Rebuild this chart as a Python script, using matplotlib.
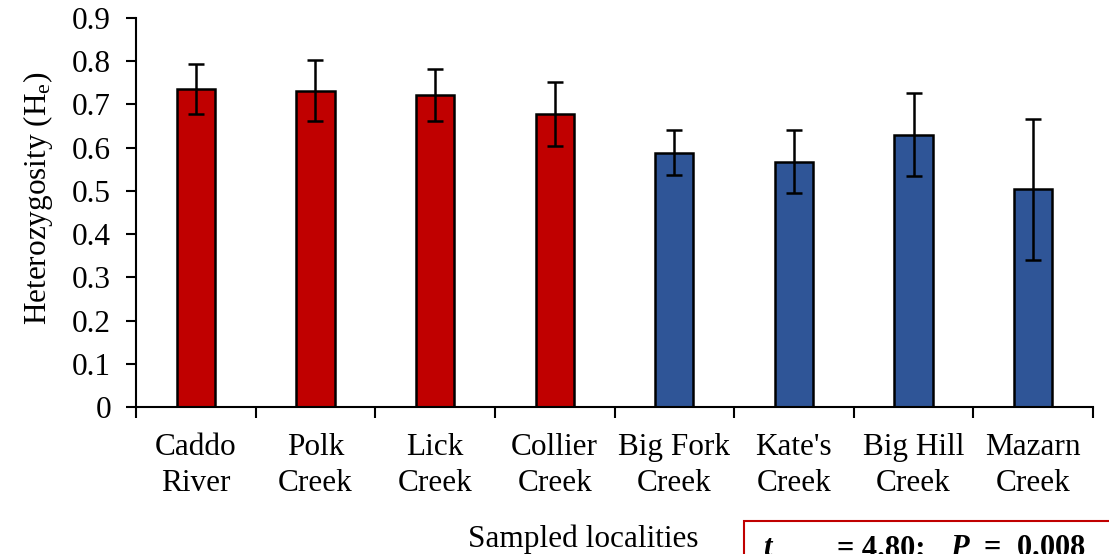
import numpy as np
import matplotlib
matplotlib.use("Agg")
import matplotlib.pyplot as plt
from matplotlib.patches import Rectangle

# expected heterozygosity per sampled locality, with error
sites = ["Caddo\nRiver", "Polk\nCreek", "Lick\nCreek", "Collier\nCreek",
         "Big Fork\nCreek", "Kate's\nCreek", "Big Hill\nCreek", "Mazarn\nCreek"]
he = [0.735, 0.732, 0.721, 0.678, 0.588, 0.567, 0.630, 0.504]
err = [0.058, 0.070, 0.060, 0.073, 0.052, 0.073, 0.096, 0.163]
colors = ["#C00000"] * 4 + ["#2F5597"] * 4

plt.rcParams["font.family"] = "Liberation Serif"
plt.rcParams["mathtext.fontset"] = "custom"
plt.rcParams["mathtext.rm"] = "Liberation Serif"
plt.rcParams["mathtext.it"] = "Liberation Serif:italic:bold"

fs = 22.5
fig = plt.figure(figsize=(11.09, 5.54), dpi=100)
ax = fig.add_axes([136/1109, 1 - 407/554, (1093 - 136)/1109, (407 - 18)/554])

x = np.arange(len(sites))
ax.bar(x, he, width=0.32, color=colors, edgecolor="black", linewidth=1.8, zorder=2)
ax.errorbar(x, he, yerr=err, fmt="none", ecolor="black", elinewidth=1.8,
            capsize=5.5, capthick=1.8, zorder=3)

ax.set_xlim(-0.5, len(sites) - 0.5)
ax.set_ylim(0, 0.9)
ax.set_yticks(np.arange(0, 0.91, 0.1))
ax.set_yticklabels(["0"] + [f"{v:.1f}" for v in np.arange(0.1, 0.91, 0.1)])
ax.set_xticks(x)
ax.set_xticklabels(sites, linespacing=1.3)
ax.set_xticks(np.arange(-0.5, len(sites)), minor=True)
ax.tick_params(axis="x", which="major", length=0, pad=19, labelsize=fs)
ax.tick_params(axis="x", which="minor", length=8, width=1.5, direction="out")
ax.tick_params(axis="y", length=7, width=1.5, direction="out", labelsize=fs, pad=11)
for s in ["top", "right"]:
    ax.spines[s].set_visible(False)
for s in ["left", "bottom"]:
    ax.spines[s].set_linewidth(1.5)

ax.set_ylabel(r"Heterozygosity (H$_\mathrm{e}$)", fontsize=fs)
ax.yaxis.set_label_coords(-0.0846, 0.537)
fig.text(583/1109, 1 - 547/554, "Sampled localities", fontsize=fs,
         ha="center", va="baseline")

# test statistic box, running off the lower right edge
fig.patches.append(Rectangle((744/1109, -0.2), 0.5, 0.2 + (554 - 521)/554,
                             transform=fig.transFigure, fill=False,
                             edgecolor="#C00000", linewidth=1.5))
base = 1 - 556/554
fig.text(763/1109, base, r"$t$", fontsize=22, ha="left", va="baseline")
fig.text(837/1109, base, "= 4.80;", fontsize=22, fontweight="bold",
         ha="left", va="baseline")
fig.text(950/1109, base, r"$P$  =  0.008", fontsize=22, fontweight="bold",
         ha="left", va="baseline")

fig.savefig("out.png", dpi=100)
